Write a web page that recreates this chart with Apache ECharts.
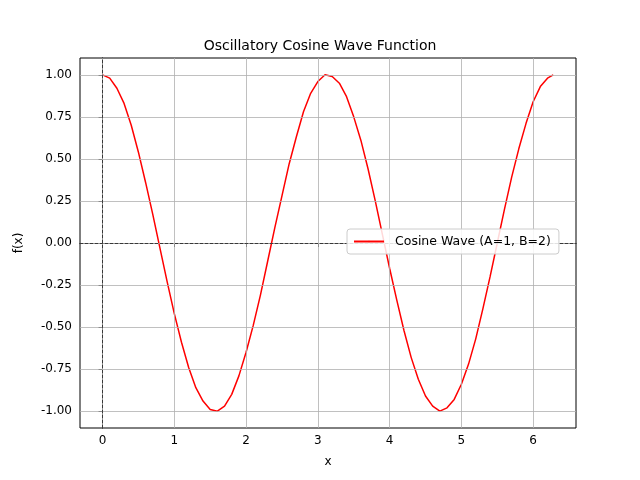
<!DOCTYPE html>
<html>
<head>
<meta charset="utf-8">
<script src="https://cdn.jsdelivr.net/npm/echarts@6/dist/echarts.min.js"></script>
</head>
<body style="margin:0">
<div id="main" style="width:640px;height:480px"></div>
<script>
// values
const xs = [0, 0.1, 0.2, 0.3, 0.4, 0.5, 0.6, 0.7, 0.8, 0.9, 1.0, 1.1, 1.2, 1.3, 1.4, 1.5, 1.6,
  1.7, 1.8, 1.9, 2.0, 2.1, 2.2, 2.3, 2.4, 2.5, 2.6, 2.7, 2.8, 2.9, 3.0, 3.1, 3.2, 3.3, 3.4,
  3.5, 3.6, 3.7, 3.8, 3.9, 4.0, 4.1, 4.2, 4.3, 4.4, 4.5, 4.6, 4.7, 4.8, 4.9, 5.0, 5.1, 5.2,
  5.3, 5.4, 5.5, 5.6, 5.7, 5.8, 5.9, 6.0, 6.1, 6.2, 6.28];
const ys = [1.00, 0.98, 0.92, 0.83, 0.70, 0.54, 0.36, 0.17, -0.03, -0.23, -0.42, -0.59, -0.74,
  -0.86, -0.94, -0.99, -1.00, -0.97, -0.90, -0.79, -0.65, -0.49, -0.31, -0.11, 0.09, 0.28,
  0.47, 0.63, 0.78, 0.89, 0.96, 1.00, 0.99, 0.95, 0.87, 0.75, 0.61, 0.44, 0.25, 0.05, -0.15,
  -0.34, -0.52, -0.68, -0.81, -0.91, -0.97, -1.00, -0.98, -0.93, -0.84, -0.72, -0.57, -0.39,
  -0.20, 0.00, 0.20, 0.39, 0.56, 0.71, 0.84, 0.93, 0.98, 1.00];
const xTicks = [0, 1, 2, 3, 4, 5, 6];
const yTicks = [-1, -0.75, -0.5, -0.25, 0, 0.25, 0.5, 0.75, 1];

const chart = echarts.init(document.getElementById('main'));
const font = 'DejaVu Sans';
const gridLines = xTicks.map(v => ({xAxis: v})).concat(yTicks.map(v => ({yAxis: v})));

chart.setOption({
  backgroundColor: '#fff',
  animation: false,
  textStyle: {fontFamily: font},
  title: {text: 'Oscillatory Cosine Wave Function', left: 'center', top: 34,
    textStyle: {fontFamily: font, fontSize: 14, fontWeight: 'normal', color: '#000'}},
  legend: {
    data: ['Cosine Wave (A=1, B=2)'], left: 347, top: 229, z: 10,
    itemWidth: 30, itemHeight: 2, itemGap: 10, borderColor: '#ccc', borderWidth: 1, borderRadius: 3,
    backgroundColor: 'rgba(255,255,255,0.85)',
    padding: [6, 8, 6, 6], textStyle: {fontFamily: font, fontSize: 12.5, color: '#000', padding: [0, 0, 0, 6]}
  },
  grid: {left: 80, right: 64, top: 58, bottom: 52, show: true, borderColor: '#000', borderWidth: 1},
  xAxis: {
    type: 'value', min: -0.314, max: 6.597, name: 'x', nameLocation: 'middle', nameGap: 28,
    nameTextStyle: {fontFamily: font, fontSize: 12, color: '#000'},
    axisLine: {lineStyle: {color: '#000'}},
    axisTick: {show: true, customValues: xTicks, length: 4, lineStyle: {color: '#000'}},
    axisLabel: {customValues: xTicks, color: '#000', fontSize: 12, margin: 7},
    splitLine: {show: false}
  },
  yAxis: {
    type: 'value', min: -1.1, max: 1.1, name: 'f(x)', nameLocation: 'middle', nameGap: 55,
    nameTextStyle: {fontFamily: font, fontSize: 12, color: '#000'},
    axisLine: {show: true, lineStyle: {color: '#000'}},
    axisTick: {show: true, customValues: yTicks, length: 4, lineStyle: {color: '#000'}},
    axisLabel: {customValues: yTicks, color: '#000', fontSize: 12, formatter: v => v.toFixed(2)},
    splitLine: {show: false}
  },
  series: [
    {
      type: 'line', silent: true, data: [], symbol: 'none',
      markLine: {silent: true, symbol: 'none', label: {show: false},
        lineStyle: {color: '#b0b0b0', type: 'solid', width: 0.8}, data: gridLines}
    },
    {
      type: 'line', silent: true, data: [], symbol: 'none',
      markLine: {silent: true, symbol: 'none', label: {show: false},
        lineStyle: {color: '#000', type: [3, 2], width: 0.6}, data: [{xAxis: 0}, {yAxis: 0}]}
    },
    {
      name: 'Cosine Wave (A=1, B=2)', type: 'line', smooth: false, symbol: 'none',
      lineStyle: {color: 'red', width: 1.5}, itemStyle: {color: 'red'},
      data: xs.map((x, i) => [x, ys[i]])
    }
  ]
});
</script>
</body>
</html>
